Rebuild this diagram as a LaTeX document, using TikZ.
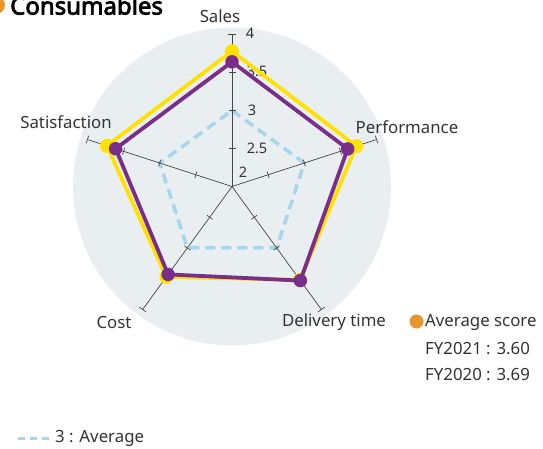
\documentclass[tikz,border=0pt]{standalone}
\usepackage{fontspec}
\setmainfont{Noto Sans}
\newfontfamily\titlefont{Noto Sans}[FakeBold=3.2]
\usetikzlibrary{calc}
\definecolor{bgc}{HTML}{E9EEF1}
\definecolor{ylw}{HTML}{FFE100}
\definecolor{prp}{HTML}{7A2E8C}
\definecolor{avgb}{HTML}{A9D5EC}
\definecolor{org}{HTML}{E8962B}
\definecolor{txt}{HTML}{333333}
\definecolor{axc}{HTML}{454545}
\tikzset{
  lbl/.style={font=\fontsize{16.8}{18}\selectfont, text=txt, inner sep=0pt},
  ticklbl/.style={font=\fontsize{14.5}{16}\selectfont, text=txt, inner sep=0pt},
  axisline/.style={draw=axc, line width=0.7pt},
  avgline/.style={draw=avgb, line width=3.5pt, dash pattern=on 10pt off 6pt},
  y20/.style={draw=ylw, line width=3.8pt, line join=round},
  p21/.style={draw=prp, line width=3.8pt, line join=round},
  ydot/.style={circle, fill=ylw, minimum size=14pt, inner sep=0pt},
  pdot/.style={circle, fill=prp, minimum size=13.5pt, inner sep=0pt},
}
\begin{document}
\begin{tikzpicture}[x=1pt,y=1pt]
\useasboundingbox (0,0) rectangle (543,448);
% center
\coordinate (C) at (232,261.5);
% background disc
\fill[bgc] (C) circle (159);
% title
\fill[org] (-4,443) circle (9);
\node[anchor=base west, inner sep=0pt, font=\titlefont\fontsize{24}{28}\selectfont, text=black] (title) at (10,433.5) {Consumables};
% average pentagon (value 3)
\draw[avgline] ($(C)+(90:76)$) coordinate (a1) -- ($(C)+(18:76)$) coordinate (a2) -- ($(C)+(-54:76)$) coordinate (a3) -- ($(C)+(-126:76)$) coordinate (a4) -- ($(C)+(162:76)$) coordinate (a5) -- cycle;
% axes
\foreach \a/\n in {90/1,18/2,-54/3,-126/4,162/5}{
  \begin{scope}[shift={(C)}, rotate=\a]
    \draw[axisline] (0,0) -- (152,0) coordinate (ax\n);
    \foreach \r in {38,76,114}{\draw[axisline] (\r,-3.5) -- (\r,3.5);}
    \draw[axisline] (152,-4) -- (152,4);
  \end{scope}
}
% tick labels
\node[ticklbl] (t4) at (250,415) {4};
\node[ticklbl] (t35) at (257,377) {3.5};
\node[ticklbl] (t3) at (252,338) {3};
\node[ticklbl] (t25) at (257,300) {2.5};
\node[ticklbl] (t2) at (243,276) {2};
% FY2020 (yellow)
\coordinate (y1) at ($(C)+(90:{(3.78-2)*76})$);
\coordinate (y2) at ($(C)+(18:{(3.72-2)*76})$);
\coordinate (y3) at ($(C)+(-54:{(3.52-2)*76})$);
\coordinate (y4) at ($(C)+(-126:{(3.47-2)*76})$);
\coordinate (y5) at ($(C)+(162:{(3.73-2)*76})$);
\draw[y20] (y1) -- (y2) -- (y3) -- (y4) -- (y5) -- cycle;
\foreach \i in {1,...,5}{\node[ydot] (yd\i) at (y\i) {};}
% FY2021 (purple)
\coordinate (p1) at ($(C)+(90:{(3.64-2)*76})$);
\coordinate (p2) at ($(C)+(18:{(3.60-2)*76})$);
\coordinate (p3) at ($(C)+(-54:{(3.53-2)*76})$);
\coordinate (p4) at ($(C)+(-126:{(3.43-2)*76})$);
\coordinate (p5) at ($(C)+(162:{(3.61-2)*76})$);
\draw[p21] (p1) -- (p2) -- (p3) -- (p4) -- (p5) -- cycle;
\foreach \i in {1,...,5}{\node[pdot] (pd\i) at (p\i) {};}
% axis labels
\node[lbl] (sales) at (220,432) {Sales};
\node[lbl] (perf) at (407,321) {Performance};
\node[lbl] (deliv) at (334,126) {Delivery time};
\node[lbl] (cost) at (114,126) {Cost};
\node[lbl] (satis) at (66,326) {Satisfaction};
% legend right
\node[circle, fill=org, minimum size=14pt, inner sep=0pt] (odot) at (416.5,126.5) {};
\node[lbl, anchor=west] (avgscore) at (425,126) {Average score};
\node[lbl, anchor=west] (fy21) at (425,99) {FY2021 : 3.60};
\node[lbl, anchor=west] (fy20) at (425,73) {FY2020 : 3.69};
% legend bottom
\coordinate (l1) at (18,10);
\coordinate (l2) at (49,10);
\draw[draw=avgb, line width=3pt, dash pattern=on 7pt off 5pt] (l1) -- (l2);
\node[lbl, anchor=west] (avglbl) at (55,10) {3 : Average};
\end{tikzpicture}
\end{document}
